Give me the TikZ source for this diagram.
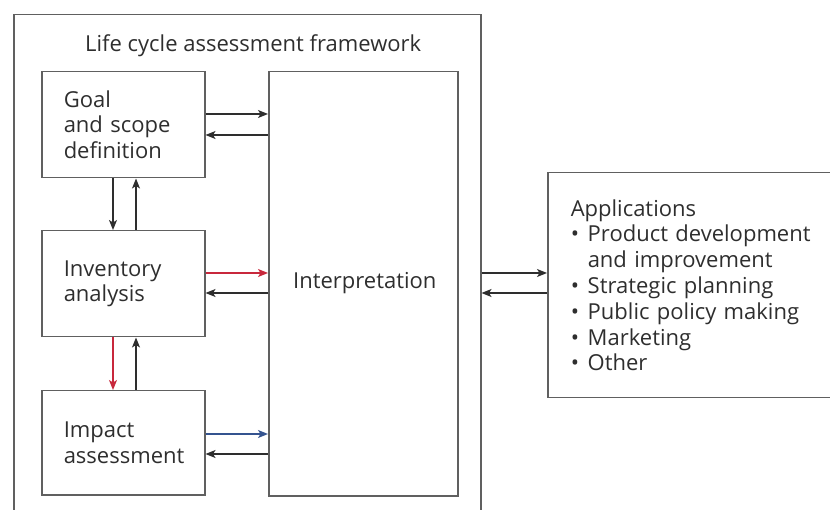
\documentclass[tikz,border=0pt]{standalone}
\usepackage{fontspec}
\setmainfont{Open Sans}
\usetikzlibrary{arrows.meta}
\definecolor{boxline}{HTML}{606060}
\definecolor{ink}{HTML}{2E2E2E}
\definecolor{arrowred}{HTML}{C8283C}
\definecolor{arrowblue}{HTML}{34538F}
\newcommand{\bulletline}[1]{\makebox[17pt][l]{\textbullet}#1}
\begin{document}
\begin{tikzpicture}[x=1pt,y=-1pt,
  txt/.style={text=ink, font=\fontsize{22}{25.8}\selectfont},
  panel/.style={draw=boxline, line width=1.5pt, anchor=north west, inner sep=0pt},
  stage/.style={panel, txt, align=left, inner xsep=22pt, inner ysep=0pt},
  flow/.style={draw=ink, line width=1.4pt, -{Stealth[length=10pt,width=8pt,inset=2.5pt]}},
]
\useasboundingbox (0,0) rectangle (830,510);
\clip (0,0) rectangle (830,510);

% outer framework and its title
\node[panel, minimum width=467pt, minimum height=520pt] (frame) at (13,14) {};
\node[txt, anchor=base west, inner sep=0pt] (title) at (85,52) {Life cycle assessment framework};

% the three phases on the left
\node[stage, text width=119pt, minimum height=106pt] (goal) at (41,71) {Goal\\and scope\\definition};
\node[stage, text width=119pt, minimum height=106pt] (inv) at (41,230) {Inventory\\analysis};
\node[stage, text width=119pt, minimum height=104pt] (imp) at (41,390) {Impact\\assessment};

% interpretation column
\node[panel, minimum width=189pt, minimum height=424pt] (interp) at (268,71) {};
\node[txt, anchor=base west, inner sep=0pt] (interptext) at (293,289) {Interpretation};

% applications
\node[stage, inner xsep=23pt, text width=260pt, minimum height=225pt] (apps) at (547,172)
  {Applications\\
   \bulletline{Product development}\\
   \hspace*{17pt}and improvement\\
   \bulletline{Strategic planning}\\
   \bulletline{Public policy making}\\
   \bulletline{Marketing}\\
   \bulletline{Other}};

% goal <-> interpretation
\draw[flow] (goal.east |- 0,114) -- (interp.west |- 0,114);
\draw[flow] (interp.west |- 0,135) -- (goal.east |- 0,135);
% goal <-> inventory
\draw[flow] (goal.south -| 113,0) -- (inv.north -| 113,0);
\draw[flow] (inv.north -| 136,0) -- (goal.south -| 136,0);
% inventory <-> interpretation
\draw[flow, draw=arrowred] (inv.east |- 0,273) -- (interp.west |- 0,273);
\draw[flow] (interp.west |- 0,293) -- (inv.east |- 0,293);
% inventory <-> impact
\draw[flow, draw=arrowred] (inv.south -| 113,0) -- (imp.north -| 113,0);
\draw[flow] (imp.north -| 136,0) -- (inv.south -| 136,0);
% impact <-> interpretation
\draw[flow, draw=arrowblue] (imp.east |- 0,434) -- (interp.west |- 0,434);
\draw[flow] (interp.west |- 0,454) -- (imp.east |- 0,454);
% framework <-> applications
\draw[flow] (frame.east |- 0,273) -- (apps.west |- 0,273);
\draw[flow] (apps.west |- 0,293) -- (frame.east |- 0,293);
\end{tikzpicture}
\end{document}
